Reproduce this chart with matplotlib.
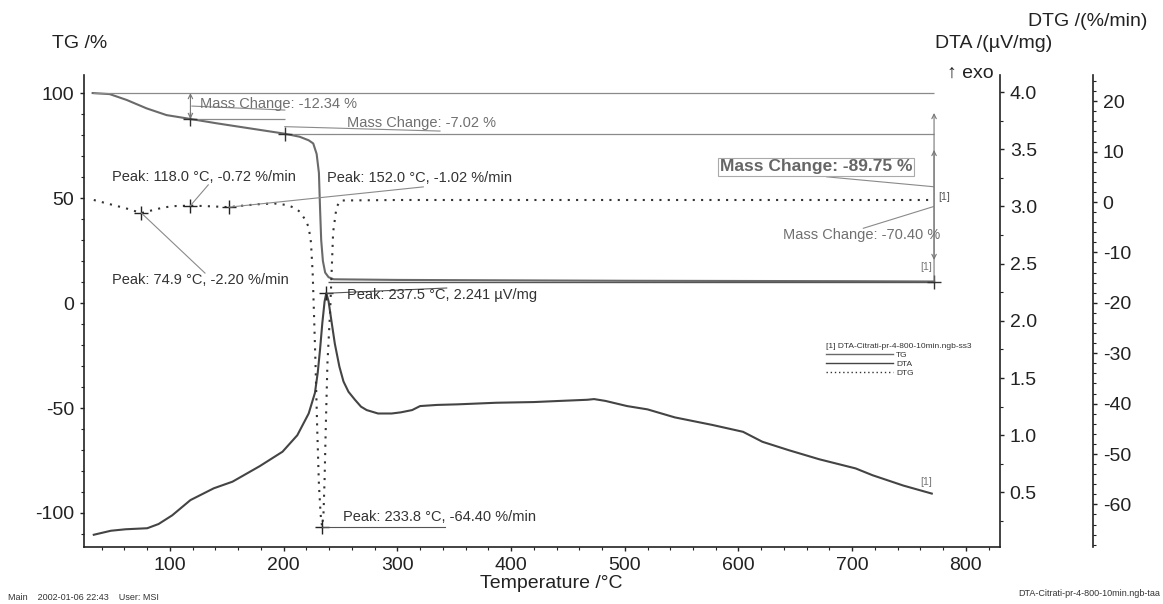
import numpy as np
import matplotlib
matplotlib.use('Agg')
import matplotlib.pyplot as plt
from matplotlib.ticker import MultipleLocator, FormatStrFormatter
from matplotlib.lines import Line2D

plt.rcParams['font.family'] = ['Liberation Sans', 'DejaVu Sans']
plt.rcParams['axes.unicode_minus'] = False

# TG curve (%)
tg_temp = [32, 47, 62, 79.5, 97, 118, 141, 170, 201, 214, 222, 226, 229, 231, 232,
           233, 234.5, 236.5, 239.5, 244, 300, 400, 500, 600, 700, 772]
tg_val = [100, 99.5, 96.7, 92.7, 89.5, 87.66, 85.6, 83.2, 80.64, 79.2, 77.5, 76, 71, 62, 45,
          30, 20, 14.5, 12.3, 11.3, 11.0, 10.8, 10.6, 10.5, 10.4, 10.25]

# DTA curve (uV/mg)
dta_temp = [33, 48, 61, 80, 90, 102, 118, 138.5, 155, 179, 199, 212, 222, 227.5, 230, 232,
            234, 236, 237.5, 239.5, 242, 245, 249, 252.6, 257, 262.7, 268, 273, 283, 295,
            303, 313, 320, 335, 353, 387, 420, 443, 467, 473, 483, 502, 520, 544, 577, 604,
            621, 644, 671, 691, 703, 718, 745, 770]
dta_val = [0.13, 0.165, 0.178, 0.187, 0.224, 0.30, 0.433, 0.536, 0.594, 0.73, 0.856, 1.0,
           1.19, 1.37, 1.55, 1.75, 1.98, 2.17, 2.241, 2.17, 2.0, 1.8, 1.6, 1.47, 1.38, 1.31,
           1.25, 1.22, 1.19, 1.19, 1.2, 1.22, 1.255, 1.265, 1.27, 1.284, 1.29, 1.30, 1.31,
           1.316, 1.30, 1.255, 1.226, 1.156, 1.09, 1.03, 0.943, 0.87, 0.79, 0.74, 0.71, 0.65,
           0.56, 0.49]

# DTG curve (%/min)
dtg_temp = [33, 50, 62, 74.9, 85, 95, 105, 118, 130, 140, 152, 165, 180, 192, 203, 210,
            214, 219, 222, 224, 225.5, 226.5, 228, 229.5, 231, 232.5, 233.8, 235, 236, 237,
            238.5, 241, 242.5, 243.5, 246.5, 250, 300, 400, 500, 600, 700, 772]
dtg_val = [0.4, -0.6, -1.3, -2.20, -1.6, -1.05, -0.8, -0.72, -0.8, -0.9, -1.02, -0.7, -0.4,
           -0.3, -0.6, -1.2, -1.9, -3.5, -5, -8, -14, -21, -32, -45, -56, -62, -64.40, -62,
           -55, -45, -32, -21, -12, -6, -1, 0.3, 0.4, 0.4, 0.4, 0.4, 0.4, 0.4]

# mass change steps
step_temps = [118, 201, 772]
step_changes = [-12.34, -7.02]
total_change = -89.75
last_change = -70.40

dtg_peaks = [(74.9, -2.20), (118.0, -0.72), (152.0, -1.02), (233.8, -64.40)]
dta_peak = (237.5, 2.241)

W, H = 1163, 604
fig = plt.figure(figsize=(W / 100, H / 100), dpi=100)
ax = fig.add_axes([84 / W, 1 - 547 / H, 916 / W, 472 / H])
ax2 = ax.twinx()
ax3 = ax.twinx()

ax.set_xlim(24.4, 830)
ax.set_ylim(-116.2, 108.6)
ax2.set_ylim(0.023, 4.149)
ax3.set_ylim(-68.45, 25.2)

spine_c = '#222222'
for s in ['top', 'right']:
    ax.spines[s].set_visible(False)
for s in ['top', 'left', 'bottom']:
    ax2.spines[s].set_visible(False)
    ax3.spines[s].set_visible(False)
ax3.spines['right'].set_position(('axes', (1093 - 84) / 916))
for a in [ax, ax2, ax3]:
    for s in a.spines.values():
        s.set_color(spine_c)
        s.set_linewidth(1.2)

ax.set_xticks(range(100, 801, 100))
ax.xaxis.set_minor_locator(MultipleLocator(20))
ax.yaxis.set_major_locator(MultipleLocator(50))
ax.yaxis.set_minor_locator(MultipleLocator(10))
ax2.yaxis.set_major_locator(MultipleLocator(0.5))
ax2.yaxis.set_minor_locator(MultipleLocator(0.25))
ax2.yaxis.set_major_formatter(FormatStrFormatter('%.1f'))
ax3.yaxis.set_major_locator(MultipleLocator(10))
ax3.yaxis.set_minor_locator(MultipleLocator(2))
for a in [ax, ax2, ax3]:
    a.tick_params(which='major', direction='out', length=3, width=1, labelsize=14,
                  colors=spine_c, labelcolor='#222222', pad=4)
    a.tick_params(which='minor', direction='out', length=2.5, width=0.8, colors=spine_c)

# curves
ax.plot(tg_temp, tg_val, color='#6a6a6a', lw=1.5)
ax2.plot(dta_temp, dta_val, color='#444444', lw=1.5)
ax3.plot(dtg_temp, dtg_val, color='#333333', lw=1.5, linestyle=(0, (1, 3)))

# mass change construction lines
ref_c = '#8a8a8a'
lvl1 = 100 + step_changes[0]
lvl2 = lvl1 + step_changes[1]
lvl_end = 100 + total_change
ax.hlines(100, tg_temp[0], step_temps[2], color=ref_c, lw=0.9)
ax.hlines(lvl1, step_temps[0], step_temps[1], color=ref_c, lw=0.9)
ax.hlines(lvl2, step_temps[1], step_temps[2], color=ref_c, lw=0.9)
ax.hlines(lvl_end, 239, step_temps[2], color='#555555', lw=1.0)
ax.plot(step_temps, [lvl1, lvl2, lvl_end], '+', color='#333333', ms=10, mew=1)

arr = dict(color='#777777', lw=0.8, shrinkA=0, shrinkB=0, mutation_scale=8)
ax.annotate('', xy=(step_temps[0], 100), xytext=(step_temps[0], lvl1),
            arrowprops=dict(arrowstyle='<->', **arr))
ax.annotate('', xy=(step_temps[2], 90.5), xytext=(step_temps[2], lvl_end),
            arrowprops=dict(arrowstyle='->', **arr))
ax.annotate('', xy=(step_temps[2], 72.9), xytext=(step_temps[2], 20.5),
            arrowprops=dict(arrowstyle='<->', **arr))

gray_t = '#707070'
ax.plot([119.3, 201], [93.8, 91.9], color=ref_c, lw=0.8)
ax.text(126.4, 94.8, f'Mass Change: {step_changes[0]:.2f} %', fontsize=10.5,
        color=gray_t, va='center')
ax.plot([201, 337.5], [84.0, 81.9], color=ref_c, lw=0.8)
ax.text(255.7, 85.7, f'Mass Change: {step_changes[1]:.2f} %', fontsize=10.5,
        color=gray_t, va='center')
ax.plot([677.6, 771.3], [60.1, 55.4], color=ref_c, lw=0.8)
ax.text(668.6, 64.8, f'Mass Change: {total_change:.2f} %', fontsize=12.5,
        fontweight='bold', color='#666666', va='center', ha='center',
        bbox=dict(boxstyle='square,pad=0.1', fc='none', ec='#aaaaaa', lw=0.8))
ax.plot([709.8, 771.3], [35.6, 45.9], color=ref_c, lw=0.8)
ax.text(708.2, 32.4, f'Mass Change: {last_change:.2f} %', fontsize=10.5,
        color=gray_t, va='center', ha='center')
ax.text(776, 50.5, '[1]', fontsize=7.5, color='#555555', va='center')
ax.text(765, 17.3, '[1]', fontsize=7.5, color='#777777', va='center', ha='center')
ax2.text(765, 0.59, '[1]', fontsize=7.5, color='#777777', va='center', ha='center')

# peak labels
peak_c = '#333333'
ax3.plot([p[0] for p in dtg_peaks], [p[1] for p in dtg_peaks], '+', color='#222222',
         ms=10, mew=1)
ax2.plot([dta_peak[0]], [dta_peak[1]], '+', color='#222222', ms=10, mew=1)

ax3.plot([dtg_peaks[1][0], 133.7], [dtg_peaks[1][1], 3.4], color=ref_c, lw=0.8)
ax3.text(48.7, 5.0, 'Peak: 118.0 °C, -0.72 %/min', fontsize=10.5, color=peak_c,
         va='center')
ax3.plot([dtg_peaks[2][0], 322.8], [dtg_peaks[2][1], 3.0], color=ref_c, lw=0.8)
ax3.text(237.8, 4.76, 'Peak: 152.0 °C, -1.02 %/min', fontsize=10.5, color=peak_c,
         va='center')
ax3.plot([dtg_peaks[0][0], 130.8], [dtg_peaks[0][1], -14.1], color=ref_c, lw=0.8)
ax3.text(48.7, -15.5, 'Peak: 74.9 °C, -2.20 %/min', fontsize=10.5, color=peak_c,
         va='center')
ax3.plot([dtg_peaks[3][0], 341.5], [dtg_peaks[3][1], dtg_peaks[3][1]], color='#555555', lw=0.8)
ax3.text(252.6, -62.4, 'Peak: 233.8 °C, -64.40 %/min', fontsize=10.5, color=peak_c,
         va='center')
ax2.plot([dta_peak[0], 343.4], [dta_peak[1], 2.287], color='#555555', lw=0.8)
ax2.text(255.4, 2.225, 'Peak: 237.5 °C, 2.241 µV/mg', fontsize=10.5, color=peak_c,
         va='center')

# legend
handles = [Line2D([], [], color='#6a6a6a', lw=1),
           Line2D([], [], color='#444444', lw=1),
           Line2D([], [], color='#333333', lw=1, linestyle=(0, (1, 2)))]
leg = ax.legend(handles, ['TG', 'DTA', 'DTG'], title='[1] DTA-Citrati-pr-4-800-10min.ngb-ss3',
                loc='upper left', bbox_to_anchor=(826 / W, 1 - 343 / H),
                bbox_transform=fig.transFigure, frameon=False, fontsize=6,
                title_fontsize=6, alignment='left', borderpad=0, borderaxespad=0,
                handlelength=8, handletextpad=0.4, labelspacing=0.15)
for t in leg.get_texts():
    t.set_color('#333333')
leg.get_title().set_color('#333333')

# axis titles
fig.text(52 / W, 1 - 43 / H, 'TG /%', fontsize=14, va='center', color='#222222')
fig.text(935 / W, 1 - 43 / H, 'DTA /(µV/mg)', fontsize=14, va='center', color='#222222')
fig.text(1028 / W, 1 - 22 / H, 'DTG /(%/min)', fontsize=14, va='center', color='#222222')
fig.text(947 / W, 1 - 73 / H, '↑ exo', fontsize=14, va='center', color='#222222')
fig.text(551 / W, 1 - 584 / H, 'Temperature /°C', fontsize=14, va='center', ha='center',
         color='#222222')
fig.text(8 / W, 1 - 597 / H, 'Main    2002-01-06 22:43    User: MSI', fontsize=6.5,
         va='center', color='#333333')
fig.text(1160 / W, 1 - 593 / H, 'DTA-Citrati-pr-4-800-10min.ngb-taa', fontsize=6.5,
         va='center', ha='right', color='#333333')

fig.savefig('out.png', dpi=100)
